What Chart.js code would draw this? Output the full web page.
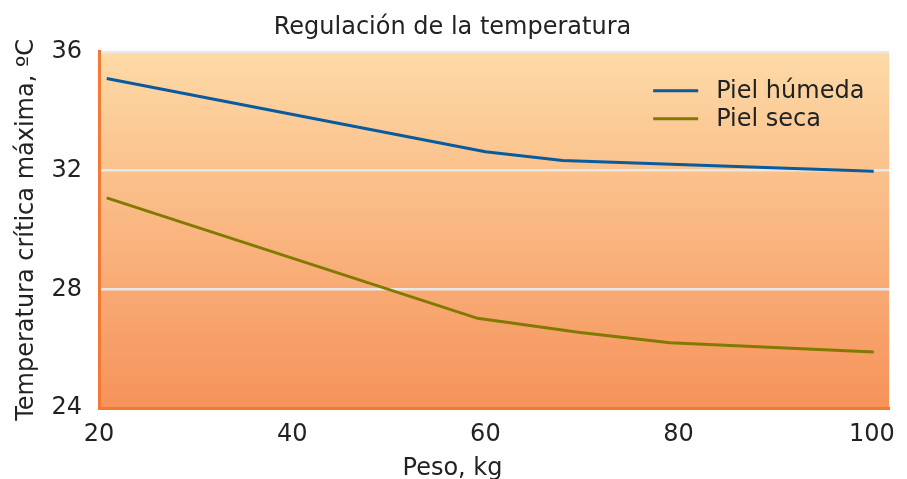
<!DOCTYPE html>
<html>
<head>
<meta charset="utf-8">
<script src="https://cdn.jsdelivr.net/npm/chart.js@4.4.0/dist/chart.umd.min.js"></script>
<style>
  body { margin: 0; background: #fff; }
  canvas { display: block; }
</style>
</head>
<body>
<canvas id="tempChart" width="907" height="479"></canvas>
<script>
// Data
const seriesLabels = ['Piel húmeda', 'Piel seca'];
const wetWeights = [20.8, 60, 68, 80, 100.2];
const wetTemps = [35.1, 32.63, 32.34, 32.2, 31.98];
const dryWeights = [20.8, 59.2, 69.8, 79.1, 100.2];
const dryTemps = [31.08, 27.02, 26.54, 26.2, 25.89];
const xTicks = [20, 40, 60, 80, 100];
const yTicks = [24, 28, 32, 36];

const toPoints = (xs, ys) => xs.map((x, i) => ({ x: x, y: ys[i] }));

const FONT = 'DejaVu Sans';
const ORANGE = '#f47934';

// gradient behind the plot area
const plotBackground = {
    id: 'plotBackground',
    beforeDraw(chart) {
        const { ctx, chartArea: a } = chart;
        const g = ctx.createLinearGradient(0, a.top, 0, a.bottom);
        g.addColorStop(0, '#fddaa7');
        g.addColorStop(1, '#f6925a');
        ctx.save();
        ctx.fillStyle = g;
        ctx.fillRect(a.left, a.top, a.right - a.left, a.bottom - a.top);
        ctx.restore();
    }
};

// legend drawn inside the plot, top right
const innerLegend = {
    id: 'innerLegend',
    afterDraw(chart) {
        const { ctx, chartArea: a } = chart;
        ctx.save();
        ctx.font = '24px "' + FONT + '"';
        ctx.textBaseline = 'middle';
        ctx.fillStyle = '#222';
        chart.data.datasets.forEach((ds, i) => {
            const y = a.top + 39 + i * 28;
            ctx.strokeStyle = ds.borderColor;
            ctx.lineWidth = 3;
            ctx.beginPath();
            ctx.moveTo(a.right - 236, y);
            ctx.lineTo(a.right - 191, y);
            ctx.stroke();
            ctx.fillText(ds.label, a.right - 173, y + 1);
        });
        ctx.restore();
    }
};

new Chart(document.getElementById('tempChart'), {
    type: 'line',
    data: {
        datasets: [{
            label: seriesLabels[0],
            data: toPoints(wetWeights, wetTemps),
            borderColor: '#0a5a9e',
            borderWidth: 3,
            pointRadius: 0,
            tension: 0
        }, {
            label: seriesLabels[1],
            data: toPoints(dryWeights, dryTemps),
            borderColor: '#827a00',
            borderWidth: 3,
            pointRadius: 0,
            tension: 0
        }]
    },
    options: {
        responsive: false,
        animation: false,
        devicePixelRatio: 1,
        layout: { padding: { left: 12, right: 14, top: 0, bottom: 0 } },
        plugins: {
            legend: { display: false },
            tooltip: { enabled: false },
            title: {
                display: true,
                text: 'Regulación de la temperatura',
                color: '#222',
                font: { family: FONT, size: 24, weight: 'normal' },
                padding: { top: 13, bottom: 10 }
            },
            subtitle: {
                display: true,
                position: 'bottom',
                text: 'Peso, kg',
                color: '#222',
                font: { family: FONT, size: 24, weight: 'normal', lineHeight: 1 },
                padding: { top: 0, bottom: -2 }
            }
        },
        scales: {
            x: {
                type: 'linear',
                min: 20,
                max: 101.8,
                afterBuildTicks: axis => { axis.ticks = xTicks.map(v => ({ value: v })); },
                afterFit: axis => { axis.height = 49; },
                grid: { display: false, drawTicks: false },
                border: { display: true, color: ORANGE, width: 3 },
                ticks: {
                    color: '#222',
                    font: { family: FONT, size: 24 },
                    padding: 12,
                    maxRotation: 0
                }
            },
            y: {
                min: 24,
                max: 36,
                afterBuildTicks: axis => { axis.ticks = yTicks.map(v => ({ value: v })); },
                afterFit: axis => { axis.width = 87; },
                grid: { color: '#e8e8e8', lineWidth: 2.5, drawTicks: false },
                border: { display: true, color: ORANGE, width: 3 },
                ticks: {
                    color: '#222',
                    font: { family: FONT, size: 24 },
                    padding: 17
                },
                title: {
                    display: true,
                    text: 'Temperatura crítica máxima, ºC',
                    color: '#222',
                    font: { family: FONT, size: 24 },
                    padding: { top: 0, bottom: 0 }
                }
            }
        }
    },
    plugins: [plotBackground, innerLegend]
});
</script>
</body>
</html>
